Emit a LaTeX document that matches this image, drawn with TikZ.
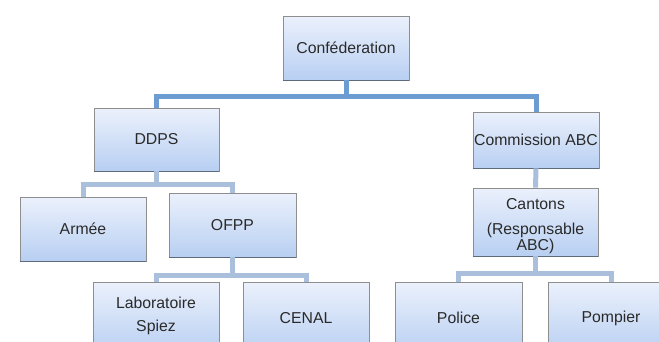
\documentclass[tikz,border=0pt]{standalone}
\usepackage{fontspec}
\setmainfont{Liberation Sans}
\definecolor{boxtop}{HTML}{EBF1FC}
\definecolor{boxbot}{HTML}{B8CFF2}
\definecolor{boxline}{HTML}{8E8E8E}
\definecolor{boxbase}{HTML}{5E6B7C}
\definecolor{linkA}{HTML}{6B9DD2}
\definecolor{linkB}{HTML}{A9BFDC}
\definecolor{txtc}{HTML}{2A2A2A}
\tikzset{
  orgbox/.style={draw=boxline, line width=0.8pt, top color=boxtop, bottom color=boxbot,
    minimum width=126pt, minimum height=64pt, inner sep=0pt, text=txtc,
    font=\fontsize{15.8}{23}\selectfont, align=center},
  orgtxt/.style={inner sep=0pt, text=txtc, font=\fontsize{15.8}{20}\selectfont, align=center},
  linka/.style={draw=linkA, line width=5pt},
  linkb/.style={draw=linkB, line width=5pt},
  basedge/.style={draw=boxbase, line width=1.5pt}
}
\begin{document}
\begin{tikzpicture}[x=1pt,y=-1pt]
\useasboundingbox (0,0) rectangle (659,341);
\clip (0,0) rectangle (659,341);
\fill[white] (0,0) rectangle (659,341);

% boxes
\node[orgbox] (conf) at (346,48) {Conféderation};
\node[orgbox, minimum width=125pt, minimum height=63pt] (ddps) at (156.5,139.5) {DDPS};
\node[orgbox, minimum height=56pt] (comm) at (536,140) {Commission ABC};
\node[orgbox] (armee) at (83,229) {Armée};
\node[orgbox, minimum width=127pt] (ofpp) at (232.5,225) {OFPP};
\node[orgbox, minimum width=125pt, minimum height=68pt] (cantons) at (535.5,222) {};
\node[orgtxt] (cantonstxt) at (535.5,226) {Cantons\\[5pt](Responsable\\[-4pt]ABC)};
\node[orgbox, minimum height=72pt] (lab) at (156,318) {};
\node[orgtxt] (labtxt) at (156,316) {Laboratoire\\[3pt]Spiez};
\node[orgbox, minimum height=72pt] (cenal) at (306,318) {CENAL};
\node[orgbox, minimum width=127pt, minimum height=72pt] (police) at (458.5,318) {Police};
\node[orgbox, minimum height=72pt] (pompier) at (611,318) {Pompier};

\foreach \n in {conf,ddps,comm,armee,ofpp,cantons}
  \draw[basedge] (\n.south west) -- (\n.south east);

% level coordinates
\coordinate (lvA) at (0,96);
\coordinate (lvB) at (0,184);
\coordinate (lvC) at (0,275);
\coordinate (lvD) at (0,273);

% connectors
\draw[linka] (conf.south) -- (conf.south |- lvA) -| (ddps.north);
\draw[linka] (conf.south |- lvA) -| (comm.north);
\draw[linkb] (ddps.south) -- (ddps.south |- lvB) -| (armee.north);
\draw[linkb] (ddps.south |- lvB) -| (ofpp.north);
\draw[linkb] (ofpp.south) -- (ofpp.south |- lvC) -| (lab.north);
\draw[linkb] (ofpp.south |- lvC) -| (cenal.north);
\draw[linkb] (comm.south) -- (cantons.north);
\draw[linkb] (cantons.south) -- (cantons.south |- lvD) -| (police.north);
\draw[linkb] (cantons.south |- lvD) -| (pompier.north);
\end{tikzpicture}
\end{document}
